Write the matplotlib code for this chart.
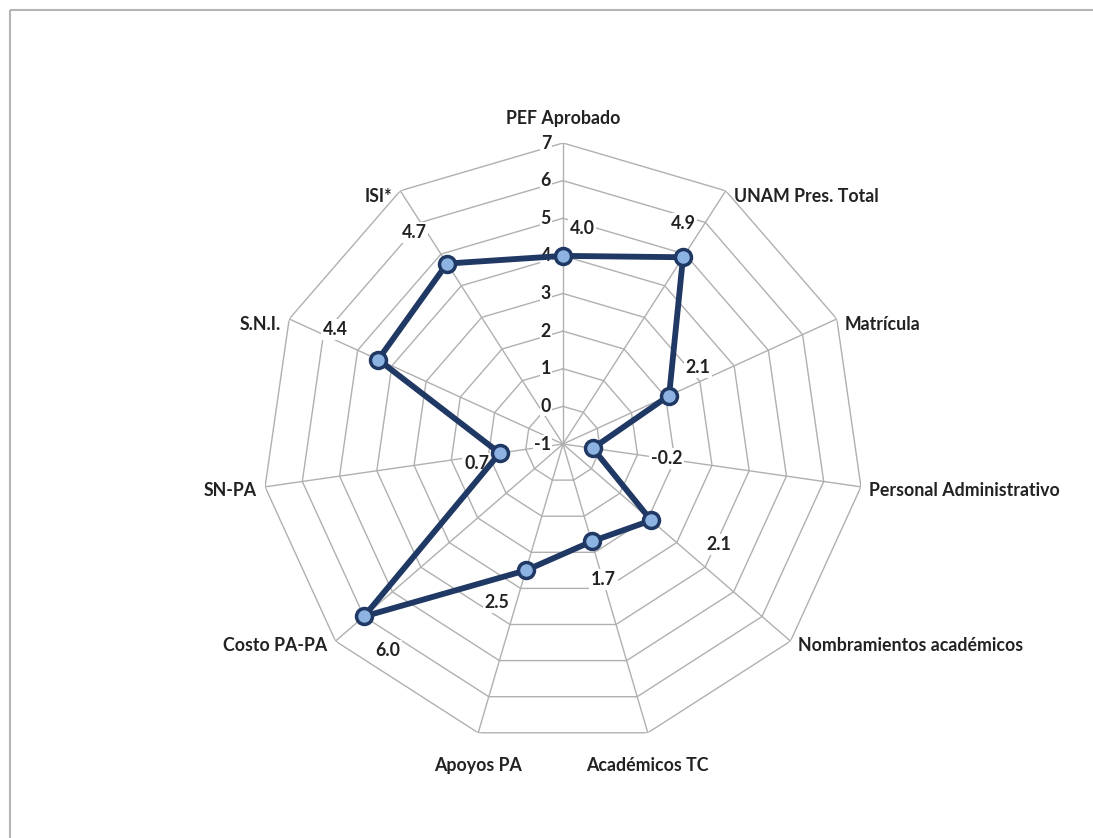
import numpy as np
import matplotlib.pyplot as plt
from matplotlib.lines import Line2D

plt.rcParams['font.family'] = ['Lato', 'DejaVu Sans']
plt.rcParams['font.weight'] = 'bold'

# datos del radar
categorias = ['PEF Aprobado', 'UNAM Pres. Total', 'Matrícula', 'Personal Administrativo',
              'Nombramientos académicos', 'Académicos TC', 'Apoyos PA', 'Costo PA-PA',
              'SN-PA', 'S.N.I.', 'ISI*']
valores = [4.0, 4.9, 2.1, -0.2, 2.1, 1.7, 2.5, 6.0, 0.7, 4.4, 4.7]
niveles = [-1, 0, 1, 2, 3, 4, 5, 6, 7]

# desplazamiento de etiquetas de valor (pixeles)
offs = [(19, 27), (0, 34), (29, 28), (74, -10), (68, -24), (12, -38),
        (-29, -32), (24, -34), (-23, -10), (-43, 30), (-33, 31)]

n = len(categorias)
ang = np.arange(n) * 2 * np.pi / n
rmin, rmax = -1, 7
fs = 12.8

fig = plt.figure(figsize=(10.93, 8.38), dpi=100)
# borde del grafico (solo arriba e izquierda visibles)
x0, y0 = 9.5 / 1093, 1 - 10 / 838
fig.add_artist(Line2D([x0, x0], [-0.01, y0], transform=fig.transFigure, color='#b4b4b4',
                      lw=1.5, solid_capstyle='butt'))
fig.add_artist(Line2D([x0, 1.01], [y0, y0], transform=fig.transFigure, color='#b4b4b4',
                      lw=1.5, solid_capstyle='butt'))

cx, cy, R = 563 / 1093, 1 - 444 / 838, 301
ax = fig.add_axes([cx - R / 1093, cy - R / 838, 2 * R / 1093, 2 * R / 838], polar=True)
ax.set_theta_zero_location('N')
ax.set_theta_direction(-1)
ax.set_ylim(rmin, rmax)
ax.grid(False)
ax.spines['polar'].set_visible(False)
ax.set_xticks([])
ax.set_yticks([])

gris = '#b0b0b0'
# anillos poligonales
a_closed = np.append(ang, ang[0])
for lv in niveles:
    ax.plot(a_closed, [lv] * (n + 1), color=gris, lw=1, zorder=1)
# radios
for a in ang:
    ax.plot([a, a], [rmin, rmax], color=gris, lw=1, zorder=1)

# etiquetas del eje radial
for lv in niveles:
    ax.annotate(str(lv), (0, lv), xytext=(-12, 0), textcoords='offset pixels',
                ha='right', va='center', fontsize=fs, color='#222222', zorder=3,
                bbox=dict(boxstyle='square,pad=0.05', fc='white', ec='none'))

# serie
v_closed = valores + [valores[0]]
ax.plot(a_closed, v_closed, color='#1f3864', lw=4.2, zorder=4)
ax.plot(ang, valores, 'o', ms=11.5, mfc='#8db3e2', mec='#1f3864', mew=2.5, zorder=5)

# etiquetas de valor
for a, v, (dx, dy) in zip(ang, valores, offs):
    ax.annotate(f'{v:.1f}', (a, v), xytext=(dx, dy), textcoords='offset pixels',
                ha='center', va='center', fontsize=fs, color='#222222', zorder=3,
                bbox=dict(boxstyle='square,pad=0.1', fc='white', ec='none'))

# etiquetas de categorias
for a, c in zip(ang, categorias):
    s = np.sin(a)
    c_ = np.cos(a)
    if abs(s) < 0.3:
        ha = 'center'
    elif s > 0:
        ha = 'left'
    else:
        ha = 'right'
    if c_ > 0.9:
        va = 'bottom'
    elif c_ < -0.9:
        va = 'top'
    else:
        va = 'center'
    px = 301 * s + (8 if ha == 'left' else -8 if ha == 'right' else 0)
    py = 301 * c_ + (16 if va == 'bottom' else -24 if va == 'top' else 0)
    if ha != 'center':
        py = py - 4 if c_ < 0 else py - 6
    ax.annotate(c, (0, rmin), xytext=(px, py), textcoords='offset pixels',
                ha=ha, va=va, fontsize=fs, color='#222222')

fig.savefig('out.png', dpi=100, facecolor='white')
